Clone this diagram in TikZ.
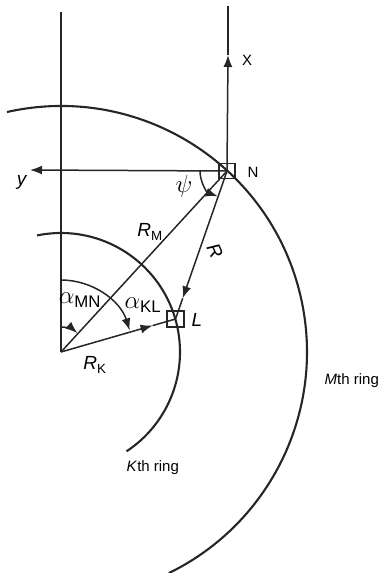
\documentclass[tikz,border=0pt]{standalone}
\usepackage{fontspec}
\setmainfont{Liberation Sans}
\usetikzlibrary{arrows.meta,calc}
\tikzset{
  ln/.style={line width=1.5pt, draw=black!85},
  ring/.style={line width=2.1pt, draw=black!85},
  tip/.style={-{Latex[length=12pt,width=9pt]}},
  boxnode/.style={draw=black!85, line width=1.6pt, rectangle, inner sep=0pt, minimum width=16pt, minimum height=15pt},
  lbl/.style={font=\fontsize{15}{17}\selectfont, inner sep=0.5pt},
  mlbl/.style={font=\fontsize{19}{21}\selectfont, inner sep=0.5pt},
  glbl/.style={font=\fontsize{24}{26}\selectfont, inner sep=0.5pt}
}
\begin{document}
\begin{tikzpicture}[x=1pt,y=1pt]
\useasboundingbox (0,0) rectangle (391,-573);
\coordinate (O) at (61,-352);
\coordinate (vtop) at (61,-12);
\coordinate (xtop) at (228,-6);
\coordinate (xarr) at (228,-55);
\coordinate (yend) at (30,-170);
\coordinate (Npt) at (227,-171);
\coordinate (Lpt) at (175.5,-319);
\coordinate (Rtip) at ($(Npt)!0.86!(Lpt)$);
\coordinate (RKtip) at ($(O)!0.80!(Lpt)$);
% rings
\draw[ring] ($(O)+(102.7:246)$) arc[start angle=102.7, end angle=-64, radius=246];
\draw[ring] ($(O)+(101.6:119)$) arc[start angle=101.6, end angle=-56.6, radius=119];
% axes
\draw[ln] (vtop) -- (O);
\draw[ln] (xarr) -- (xtop);
\draw[ln,tip] (Npt) -- (xarr);
\draw[ln,tip] (Npt) -- (yend);
% radii
\draw[ln] (O) -- (Npt);
\draw[ln,tip] (Npt) -- (Rtip);
\draw[ln] (Rtip) -- (Lpt);
\draw[ln,tip] (O) -- (RKtip);
\draw[ln] (RKtip) -- (Lpt);
% angle arcs
\draw[ln,tip] ($(Npt)+(180:27)$) arc[start angle=180, end angle=250, radius=27];
\draw[ln,tip] ($(O)+(90:25)$) arc[start angle=90, end angle=49, radius=25];
\draw[ln,tip] ($(O)+(90:72)$) arc[start angle=90, end angle=17.5, radius=72];
% boxes
\node[boxnode] (N) at (Npt) {};
\node[boxnode, minimum width=17pt, minimum height=16pt] (L) at (Lpt) {};
% labels
\node[lbl] (xl) at (247,-60) {X};
\node[lbl] (nl) at (253,-172) {N};
\node[mlbl] (ll) at (197,-320) {\textit{L}};
\node[mlbl] (yl) at (22,-182) {\textit{y}};
\node[glbl] (psil) at (184,-186) {$\psi$};
\node[mlbl] (rml) at (150,-232) {\textit{R}$_{\mathrm{M}}$};
\node[mlbl, rotate=-65] (rl) at (215,-251) {\textit{R}};
\node[mlbl] (rkl) at (95,-365) {\textit{R}$_{\mathrm{K}}$};
\node[glbl] (amn) at (80,-300) {$\alpha_{\mathrm{MN}}$};
\node[glbl] (akl) at (143,-305) {$\alpha_{\mathrm{KL}}$};
\node[lbl, anchor=west] (mring) at (324,-381) {\textit{M}th ring};
\node[lbl, anchor=west] (kring) at (126,-468) {\textit{K}th ring};
\end{tikzpicture}
\end{document}
